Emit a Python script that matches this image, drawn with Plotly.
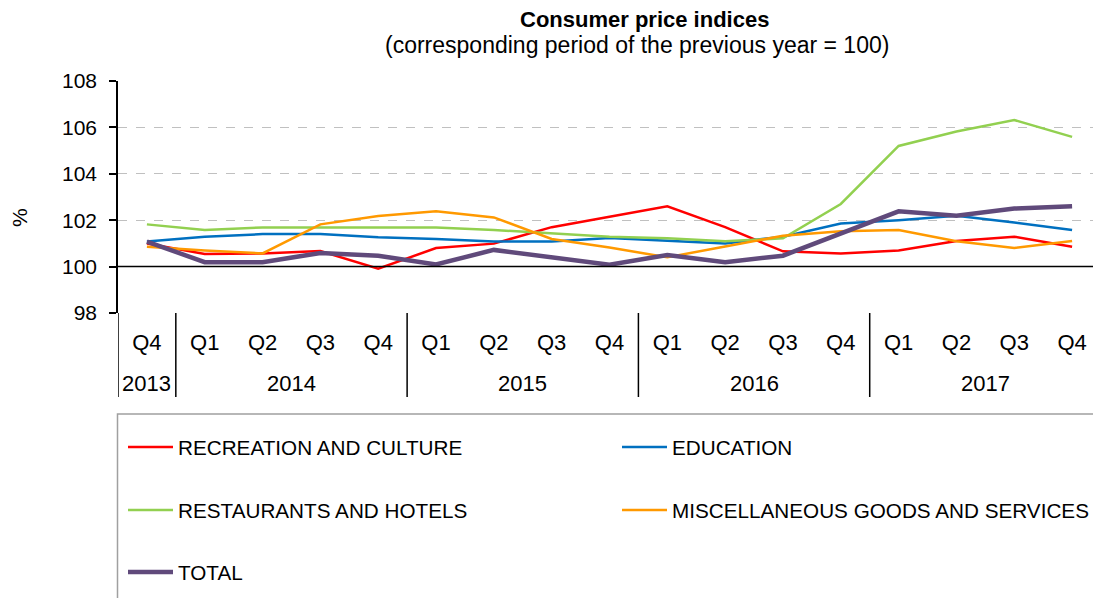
import plotly.graph_objects as go

quarters = ["Q4", "Q1", "Q2", "Q3", "Q4", "Q1", "Q2", "Q3", "Q4",
            "Q1", "Q2", "Q3", "Q4", "Q1", "Q2", "Q3", "Q4"]
years = ["2013", "2014", "2014", "2014", "2014", "2015", "2015", "2015", "2015",
         "2016", "2016", "2016", "2016", "2017", "2017", "2017", "2017"]

recreation = [101.0, 100.54, 100.57, 100.67, 99.91, 100.8, 100.99, 101.7, 102.15,
              102.6, 101.7, 100.66, 100.57, 100.69, 101.1, 101.29, 100.86]
education = [101.08, 101.29, 101.4, 101.4, 101.26, 101.19, 101.08, 101.08, 101.23,
             101.12, 101.0, 101.29, 101.86, 102.0, 102.19, 101.9, 101.58]
restaurants = [101.82, 101.58, 101.69, 101.69, 101.69, 101.69, 101.58, 101.43, 101.29,
               101.22, 101.09, 101.22, 102.7, 105.2, 105.82, 106.32, 105.59]
misc = [100.86, 100.69, 100.57, 101.82, 102.18, 102.39, 102.12, 101.19, 100.82,
        100.4, 100.87, 101.33, 101.52, 101.58, 101.09, 100.8, 101.1]
total = [101.08, 100.19, 100.19, 100.59, 100.47, 100.09, 100.72, 100.4, 100.08,
         100.5, 100.19, 100.47, 101.4, 102.38, 102.19, 102.5, 102.6]

y_ticks = [98, 100, 102, 104, 106, 108]

FONT = "Arial, 'Liberation Sans', sans-serif"
OFF = 8  # default page body margin
W, H = 1101 - OFF, 598 - OFF
ML, MT = 118 - OFF, 81 - OFF
MB = H - (313 - OFF)
MR = 0
PW = W - ML - MR
PH = H - MT - MB


def px_to_paper_x(px):
    # px is a screen coordinate
    return (px - OFF - ML) / PW


def px_to_paper_y(py):
    return (H - MB - (py - OFF)) / PH


cats = list(range(len(quarters)))

series = [
    ("RECREATION AND CULTURE", recreation, "#ff0000", 2.5, "legend"),
    ("EDUCATION", education, "#0070c0", 2.5, "legend2"),
    ("RESTAURANTS AND HOTELS", restaurants, "#92d050", 2.5, "legend3"),
    ("MISCELLANEOUS GOODS AND SERVICES", misc, "#ff9900", 2.5, "legend4"),
    ("TOTAL", total, "#604a7b", 4.5, "legend5"),
]

fig = go.Figure()
for name, vals, color, w, lg in series:
    fig.add_trace(go.Scatter(
        x=cats, y=vals, mode="lines", name=name,
        line=dict(color=color, width=w),
        legend=lg, showlegend=True,
    ))

legend_pos = {
    "legend": (123, 447),
    "legend2": (617, 447),
    "legend3": (123, 510),
    "legend4": (617, 510),
    "legend5": (123, 572),
}
legend_layouts = {}
for key, (lx, ly) in legend_pos.items():
    legend_layouts[key] = dict(
        x=px_to_paper_x(lx), y=px_to_paper_y(ly),
        xanchor="left", yanchor="middle",
        bgcolor="rgba(0,0,0,0)", borderwidth=0,
        font=dict(family=FONT, size=20.7, color="black"),
        itemwidth=45,
    )

shapes = []
# horizontal axis line at 100
shapes.append(dict(type="line", xref="paper", yref="y", x0=0, x1=1, y0=100, y1=100,
                   line=dict(color="black", width=1.5), layer="above"))
# dividers between years, plus left axis extension
div_bottom = px_to_paper_y(397)
bounds = [-0.5]
for i in range(1, len(years)):
    if years[i] != years[i - 1]:
        bounds.append(i - 0.5)
for b in bounds:
    shapes.append(dict(type="line", xref="x", yref="paper", x0=b, x1=b, y0=0, y1=div_bottom,
                       line=dict(color="black", width=1.5)))
# legend box
shapes.append(dict(type="rect", xref="paper", yref="paper",
                   x0=px_to_paper_x(117.5), x1=1.02, y0=px_to_paper_y(414), y1=px_to_paper_y(640),
                   line=dict(color="#a0a0a0", width=1.5), fillcolor="rgba(0,0,0,0)"))

annotations = []
# year labels
uniq_years = []
for y in years:
    if y not in uniq_years:
        uniq_years.append(y)
for yr in uniq_years:
    idx = [i for i, v in enumerate(years) if v == yr]
    annotations.append(dict(x=sum(idx) / len(idx), xref="x", y=px_to_paper_y(384), yref="paper",
                            text=yr, showarrow=False, xanchor="center", yanchor="middle",
                            font=dict(family=FONT, size=22, color="black")))
# titles
annotations.append(dict(x=px_to_paper_x(644), xref="paper", y=px_to_paper_y(19), yref="paper",
                        text="<b>Consumer price indices</b>", showarrow=False,
                        xanchor="center", yanchor="middle",
                        font=dict(family=FONT, size=22, color="black")))
annotations.append(dict(x=px_to_paper_x(637), xref="paper", y=px_to_paper_y(45), yref="paper",
                        text="(corresponding period of the previous year = 100)", showarrow=False,
                        xanchor="center", yanchor="middle",
                        font=dict(family=FONT, size=23, color="black")))
annotations.append(dict(x=px_to_paper_x(20), xref="paper", y=px_to_paper_y(218), yref="paper",
                        text="%", showarrow=False, textangle=-90,
                        xanchor="center", yanchor="middle",
                        font=dict(family=FONT, size=21, color="black")))

fig.update_layout(
    width=W, height=H,
    margin=dict(l=ML, r=MR, t=MT, b=MB, pad=0),
    plot_bgcolor="white", paper_bgcolor="white",
    font=dict(family=FONT, size=21, color="black"),
    xaxis=dict(
        type="linear", range=[-0.5, len(quarters) - 0.5],
        tickmode="array", tickvals=cats, ticktext=quarters,
        showgrid=False, zeroline=False, showline=False, ticks="",
        ticklabelstandoff=14,
        tickfont=dict(family=FONT, size=22, color="black"),
    ),
    yaxis=dict(
        range=[98, 108], tickmode="array", tickvals=y_ticks,
        showgrid=True, gridcolor="#c0c0c0", griddash="dash", gridwidth=1,
        zeroline=False, showline=True, linecolor="black", linewidth=1.5,
        ticks="outside", ticklen=7, tickcolor="black", tickwidth=1.5,
        ticklabelstandoff=8,
        tickfont=dict(family=FONT, size=21, color="black"),
    ),
    shapes=shapes,
    annotations=annotations,
    **legend_layouts,
)

fig.write_html("out.html")
